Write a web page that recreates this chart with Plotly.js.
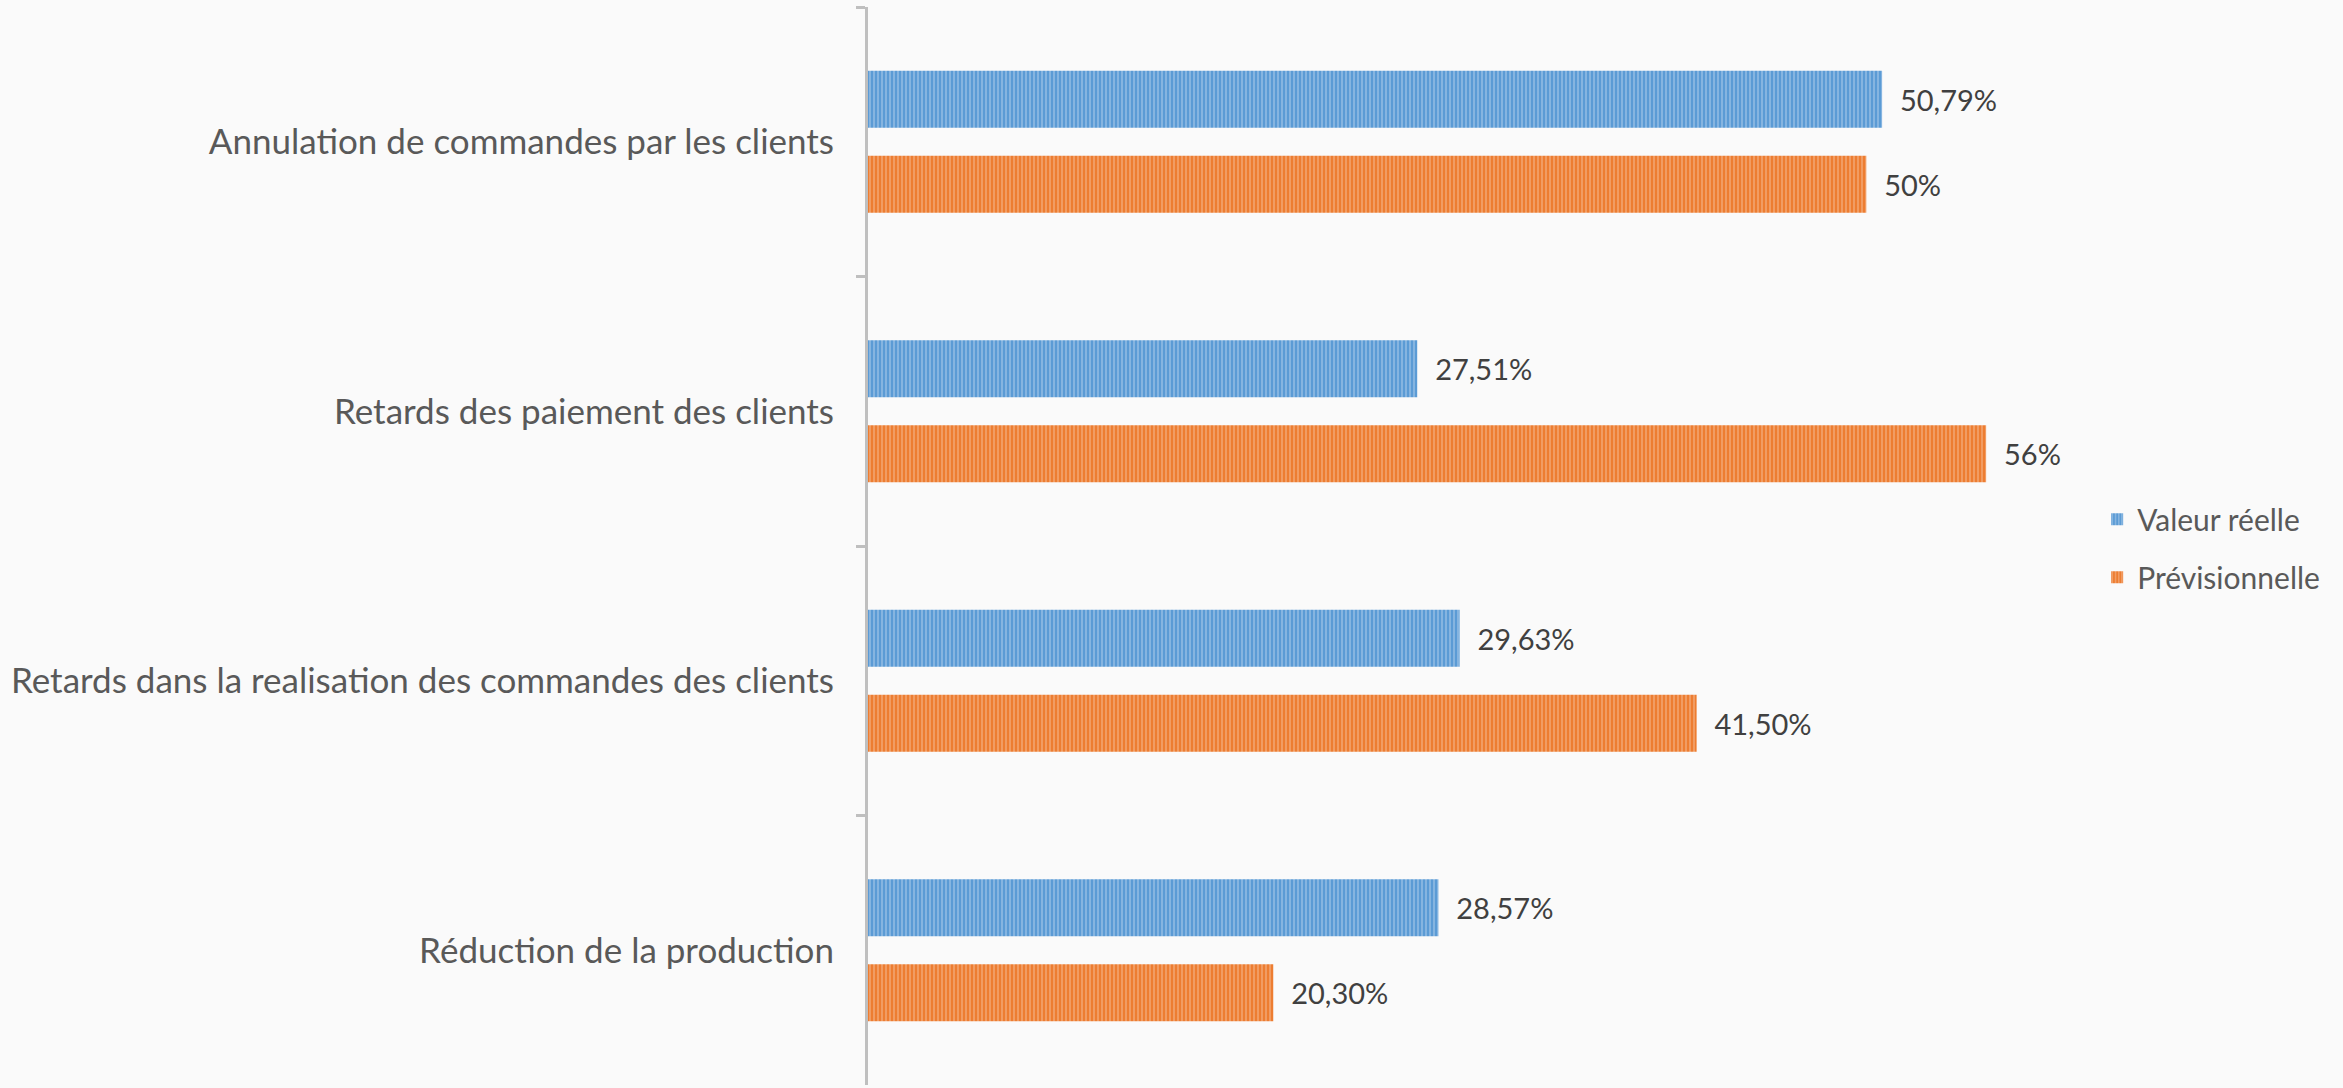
<!DOCTYPE html>
<html>
<head>
<meta charset="utf-8">
<script src="https://cdn.plot.ly/plotly-3.0.1.min.js"></script>
<style>html,body{margin:0;padding:0;background:#FAFAFA;}</style>
</head>
<body>
<div id="chart" style="width:2343px;height:1088px;"></div>
<script>
const categories = [
  "Annulation de commandes par les clients",
  "Retards des paiement des clients",
  "Retards dans la realisation des commandes des clients",
  "Réduction de la production"
];
const seriesNames = ["Valeur réelle", "Prévisionnelle"];
const valeurReelle = [50.79, 27.51, 29.63, 28.57];
const previsionnelle = [50, 56, 41.5, 20.3];
const labelsReelle = ["50,79%", "27,51%", "29,63%", "28,57%"];
const labelsPrev = ["50%", "56%", "41,50%", "20,30%"];

const pad = "\u00A0\u00A0";
const FONT = "Lato, 'Open Sans', sans-serif";

function trace(name, vals, labels, color, light) {
  return {
    type: "bar",
    orientation: "h",
    name: name,
    y: categories,
    x: vals,
    text: labels.map(l => pad + l),
    textposition: "outside",
    cliponaxis: false,
    textfont: {family: FONT, size: 29, color: "#404040"},
    marker: {
      color: color,
      line: {width: 0},
      pattern: {shape: "|", fgcolor: light, bgcolor: color, size: 4, solidity: 0.35, fillmode: "overlay"}
    },
    legendgroup: name,
    hoverinfo: "none"
  };
}

const data = [
  trace(seriesNames[0], valeurReelle, labelsReelle, "#5B9BD5", "#D4E4F4"),
  trace(seriesNames[1], previsionnelle, labelsPrev, "#ED7D31", "#F9D5BD")
];

const layout = {
  width: 2343,
  height: 1088,
  paper_bgcolor: "#FAFAFA",
  plot_bgcolor: "#FAFAFA",
  margin: {l: 868, r: 277, t: 7, b: 3, pad: 0},
  barmode: "group",
  bargap: 0.368,
  bargroupgap: 0.33,
  showlegend: true,
  legend: {
    x: 1.026, xanchor: "left",
    y: 0.498, yanchor: "middle",
    font: {family: FONT, size: 30, color: "#595959"},
    bgcolor: "rgba(0,0,0,0)",
    tracegroupgap: 16,
    traceorder: "grouped"
  },
  xaxis: {
    range: [0, 60],
    showticklabels: false,
    showgrid: false,
    zeroline: false,
    showline: false,
    ticks: ""
  },
  yaxis: {
    type: "category",
    range: [3.5, -0.5],
    showline: true,
    linecolor: "#BFBFBF",
    linewidth: 3,
    ticks: "outside",
    tickson: "boundaries",
    ticklen: 9,
    tickwidth: 3,
    tickcolor: "#BFBFBF",
    showgrid: false,
    zeroline: false,
    ticklabelstandoff: 24,
    tickfont: {family: FONT, size: 35, color: "#595959"}
  }
};

Plotly.newPlot("chart", data, layout, {staticPlot: true, displayModeBar: false});
</script>
</body>
</html>
